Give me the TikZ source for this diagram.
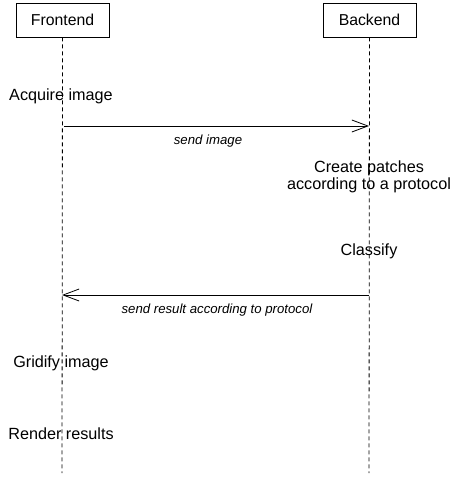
\documentclass[tikz,border=0pt]{standalone}
\usepackage{fontspec}
\setmainfont{Liberation Sans}
\usetikzlibrary{positioning,arrows.meta}
\tikzset{>={Straight Barb[length=16pt,width=12pt]}}
\tikzset{
  actor/.style={draw,line width=0.8pt,minimum width=93pt,minimum height=34pt,font=\fontsize{15.8}{18}\selectfont},
  lifeline/.style={dash pattern=on 4pt off 3pt,line width=0.8pt},
  msg/.style={->,line width=0.8pt},
  msglabel/.style={font=\itshape\fontsize{13.2}{15}\selectfont},
  action/.style={font=\fontsize{16.2}{17}\selectfont,align=center}
}

\begin{document}
\begin{tikzpicture}[x=1pt,y=-1pt]
  \useasboundingbox (0,0) rectangle (462,481);
  % actors
  \node[actor] (front) at (62.5,20) {Frontend};
  \node[actor] (back) at (369.5,20) {Backend};
  \coordinate (frontend) at (62,473);
  \coordinate (backend) at (369,473);
  \draw[lifeline] (front.south) -- (frontend);
  \draw[lifeline] (back.south) -- (backend);
  % actions
  \node[action] (acquire) at (61,96) {Acquire image};
  \node[action] (patches) at (369,177) {Create patches\\according to a protocol};
  \node[action] (classify) at (369,251) {Classify};
  \node[action] (gridify) at (61,363) {Gridify image};
  \node[action] (render) at (61,434) {Render results};
  % messages
  \coordinate (s1) at (64,126);
  \coordinate (e1) at (369,126);
  \coordinate (s2) at (369,295);
  \coordinate (e2) at (62,295);
  \draw[msg] (s1) -- (e1);
  \draw[msg] (s2) -- (e2);
  \node[msglabel] (sendimg) at (208,141) {send image};
  \node[msglabel] (sendres) at (217,310) {send result according to protocol};
\end{tikzpicture}
\end{document}
